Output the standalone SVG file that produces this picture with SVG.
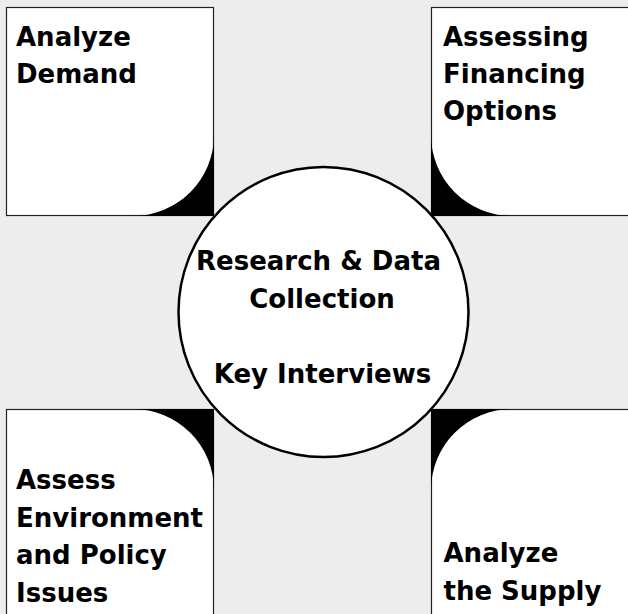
<svg xmlns="http://www.w3.org/2000/svg" width="628" height="614" viewBox="0 0 628 614">
  <style>
    .box { fill: #ffffff; stroke: #222222; stroke-width: 1.2; }
    .corner { fill: #000000; stroke: none; }
    .hub { fill: #ffffff; stroke: #000000; stroke-width: 2.5; }
    .label { font-family: "DejaVu Sans", "Liberation Sans", sans-serif; font-weight: bold; font-size: 26px; fill: #000000; }
    .center { text-anchor: middle; }
  </style>

  <!-- backdrop -->
  <rect x="0" y="0" width="628" height="614" fill="#ededed"/>

  <!-- top-left step -->
  <g id="analyze-demand">
    <rect class="box" x="6.5" y="7.5" width="207" height="208"/>
    <path class="corner" d="M214,135 A81,81 0 0 1 133,216 L214,216 Z"/>
    <text class="label" x="16" y="45.5">Analyze</text>
    <text class="label" x="16" y="82.5">Demand</text>
  </g>

  <!-- top-right step -->
  <g id="financing-options">
    <rect class="box" x="431.5" y="7.5" width="210" height="208"/>
    <path class="corner" d="M431,135 A81,81 0 0 0 512,216 L431,216 Z"/>
    <text class="label" x="443" y="45.5">Assessing</text>
    <text class="label" x="443" y="82.5">Financing</text>
    <text class="label" x="443" y="120">Options</text>
  </g>

  <!-- bottom-left step -->
  <g id="environment-policy">
    <rect class="box" x="6.5" y="409.5" width="207" height="220"/>
    <path class="corner" d="M133,409 A81,81 0 0 1 214,490 L214,409 Z"/>
    <text class="label" x="16" y="489">Assess</text>
    <text class="label" x="16" y="527">Environment</text>
    <text class="label" x="16" y="564">and Policy</text>
    <text class="label" x="16" y="602">Issues</text>
  </g>

  <!-- bottom-right step -->
  <g id="analyze-supply">
    <rect class="box" x="431.5" y="409.5" width="210" height="220"/>
    <path class="corner" d="M431,490 A81,81 0 0 1 512,409 L431,409 Z"/>
    <text class="label" x="443.5" y="562">Analyze</text>
    <text class="label" x="443.5" y="600">the Supply</text>
  </g>

  <g id="connectors"/>

  <!-- central hub -->
  <g id="research-hub">
    <circle class="hub" cx="323.5" cy="312" r="145"/>
    <text class="label center" x="318.5" y="270">Research &amp; Data</text>
    <text class="label center" x="322" y="308">Collection</text>
    <text class="label center" x="322.5" y="383">Key Interviews</text>
  </g>
</svg>
